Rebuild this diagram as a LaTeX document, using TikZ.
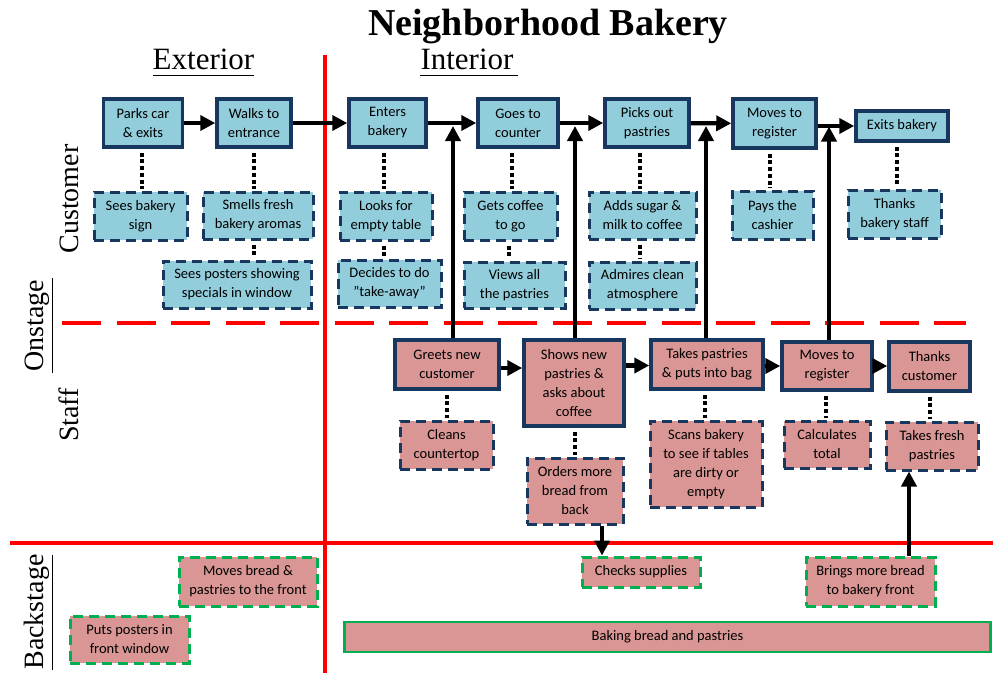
\documentclass[tikz,border=0pt]{standalone}
\usepackage{fontspec}
\setmainfont{Liberation Serif}
\newfontfamily\boxfont{Carlito}
\usetikzlibrary{arrows.meta}

\definecolor{bpnavy}{RGB}{23,55,94}
\definecolor{bpblue}{RGB}{146,205,220}
\definecolor{bppink}{RGB}{217,150,148}
\definecolor{bpgreen}{RGB}{0,176,80}
\definecolor{bpred}{RGB}{255,0,0}

\begin{document}
\begin{tikzpicture}[x=1pt,y=-1pt,
  every node/.style={inner sep=1pt},
  boxtext/.style={font=\boxfont\fontsize{14.5}{19}\selectfont, align=center, inner sep=1pt},
  cmain/.style={boxtext, draw=bpnavy, fill=bpblue, line width=3.5pt},
  csub/.style={boxtext, draw=bpnavy, fill=bpblue, line width=3pt, dash pattern=on 10pt off 6pt},
  smain/.style={boxtext, draw=bpnavy, fill=bppink, line width=3.5pt},
  ssub/.style={boxtext, draw=bpnavy, fill=bppink, line width=3pt, dash pattern=on 10pt off 6pt},
  bsub/.style={boxtext, draw=bpgreen, fill=bppink, line width=3pt, dash pattern=on 10pt off 6pt},
  bsolid/.style={boxtext, draw=bpgreen, fill=bppink, line width=2.6pt},
  arr/.style={line width=4.2pt, -{Triangle[length=15pt,width=15pt]}},
  dots/.style={line width=4pt, dash pattern=on 4pt off 2.7pt, shorten <=4pt, shorten >=2pt},
  zoneline/.style={bpred, line width=3.5pt},
  heading/.style={font=\fontsize{31}{31}\selectfont, inner sep=0pt, anchor=base},
  sidelabel/.style={font=\fontsize{28}{28}\selectfont, inner sep=0pt, anchor=base, rotate=90},
  rule/.style={line width=0.8pt}
]
\useasboundingbox (0,0) rectangle (993,673);

% zone boundaries
\draw[zoneline] (325,55) -- (325,673);
\draw[zoneline, dash pattern=on 39pt off 15.5pt] (62,323) -- (966,323);
\draw[zoneline] (10,543) -- (993,543);

% title and headings
\node[font=\bfseries\fontsize{38}{38}\selectfont, inner sep=0pt, anchor=base] (title) at (548,35) {Neighborhood Bakery};
\node[heading] (ext) at (203.5,69) {Exterior};
\node[heading] (int) at (467,69) {Interior};
\draw[rule] (ext.base west) ++(0,6) -- ++(101,0);
\draw[rule] (int.base west) ++(0,6) -- ++(98,0);

% side labels
\node[sidelabel] (lcust) at (78,199) {Customer};
\node[sidelabel] (lon) at (43,326) {Onstage};
\node[sidelabel] (lstaff) at (78,415) {Staff};
\node[sidelabel] (lback) at (43,612) {Backstage};
\draw[rule] (52,278) -- (52,373);
\draw[rule] (52,555) -- (52,670);

% customer actions
\node[cmain, minimum width=79, minimum height=48] (parks) at (143,123) {Parks car\\\& exits};
\node[cmain, minimum width=74, minimum height=48] (walks) at (254,123) {Walks to\\entrance};
\node[cmain, minimum width=77, minimum height=48] (enters) at (387.5,123) {Enters\\bakery};
\node[cmain, minimum width=80, minimum height=48] (counter) at (518,123) {Goes to\\counter};
\node[cmain, minimum width=84, minimum height=48] (picks) at (647,123) {Picks out\\pastries};
\node[cmain, minimum width=83, minimum height=49] (cmove) at (774.5,123.5) {Moves to\\register};
\node[cmain, minimum width=92, minimum height=30] (exits) at (902,126) {Exits bakery};

\node[csub, minimum width=93, minimum height=48] (sign) at (140.5,216) {Sees bakery\\sign};
\node[csub, minimum width=110, minimum height=47] (smells) at (258,215.5) {Smells fresh\\bakery aromas};
\node[csub, minimum width=148, minimum height=47] (posters) at (237,284.5) {Sees posters showing\\specials in window};
\node[csub, minimum width=92, minimum height=48] (looks) at (386,216) {Looks for\\empty table};
\node[csub, minimum width=103, minimum height=47] (decides) at (389.5,283.5) {Decides to do\\”take-away”};
\node[csub, minimum width=93, minimum height=48] (coffee) at (510.5,216) {Gets coffee\\to go};
\node[csub, minimum width=101, minimum height=46] (views) at (514.5,285) {Views all\\the pastries};
\node[csub, minimum width=107, minimum height=47] (sugar) at (642.5,215.5) {Adds sugar \&\\milk to coffee};
\node[csub, minimum width=107, minimum height=47] (admires) at (642.5,285.5) {Admires clean\\atmosphere};
\node[csub, minimum width=81, minimum height=48] (pays) at (772.5,215) {Pays the\\cashier};
\node[csub, minimum width=93, minimum height=48] (thanks) at (894.5,214) {Thanks\\bakery staff};

% staff actions
\node[smain, minimum width=104, minimum height=49] (greets) at (447,364.5) {Greets new\\customer};
\node[smain, minimum width=100, minimum height=86] (shows) at (574,383) {Shows new\\pastries \&\\asks about\\coffee};
\node[smain, minimum width=112, minimum height=49] (takes) at (707,364.5) {Takes pastries\\\& puts into bag};
\node[smain, minimum width=90, minimum height=48] (smove) at (827,366) {Moves to\\register};
\node[smain, minimum width=81, minimum height=49] (tcust) at (929.5,366.5) {Thanks\\customer};

\node[ssub, minimum width=93, minimum height=48] (cleans) at (446.5,445) {Cleans\\countertop};
\node[ssub, minimum width=96, minimum height=66] (orders) at (575,491) {Orders more\\bread from\\back};
\node[ssub, minimum width=112, minimum height=86] (scans) at (706,464) {Scans bakery\\to see if tables\\are dirty or\\empty};
\node[ssub, minimum width=86, minimum height=47] (calc) at (827,444.5) {Calculates\\total};
\node[ssub, minimum width=92, minimum height=48] (fresh) at (932,446) {Takes fresh\\pastries};

% backstage actions
\node[bsub, minimum width=138, minimum height=49] (movesbread) at (248,581.5) {Moves bread \&\\pastries to the front};
\node[bsub, minimum width=119, minimum height=47] (putsposters) at (129.5,639.5) {Puts posters in\\front window};
\node[bsub, minimum width=118, minimum height=30] (checks) at (641,572) {Checks supplies};
\node[bsub, minimum width=129, minimum height=49] (brings) at (870.5,581.5) {Brings more bread\\to bakery front};
\node[bsolid, minimum width=646, minimum height=30] (baking) at (667.5,637) {Baking bread and pastries};

% customer flow
\draw[arr] (parks) -- (walks);
\draw[arr] (walks) -- (enters);
\draw[arr] (enters) -- (counter);
\draw[arr] (counter) -- (picks);
\draw[arr] (picks) -- (cmove);
\draw[arr] (cmove.east |- exits.west) -- (exits);

% staff flow
\draw[arr] ([yshift=-3.5pt]greets.east) -- ([yshift=-3.5pt]greets.east -| shows.west);
\draw[arr] ([yshift=-1pt]takes.west -| shows.east) -- ([yshift=-1pt]takes.west);
\draw[arr] (takes.east |- smove.west) -- (smove.west);
\draw[arr] (smove) -- (smove -| tcust.west);

% staff actions feeding the customer path
\draw[arr] ([xshift=6pt]greets.north) -- ([xshift=6pt,yshift=-3pt]greets.north |- enters.east);
\draw[arr] ([xshift=1pt]shows.north) -- ([xshift=1pt,yshift=-3pt]shows.north |- counter.east);
\draw[arr] ([xshift=-1pt]takes.north) -- ([xshift=-1pt,yshift=-3pt]takes.north |- picks.east);
\draw[arr] ([xshift=2pt]smove.north) -- ([xshift=2pt,yshift=-3pt]smove.north |- cmove.east);

% backstage links
\draw[arr] ([xshift=27pt]orders.south) -- ([xshift=27pt]orders.south |- checks.north);
\draw[arr] ([xshift=38.5pt]brings.north) -- ([xshift=38.5pt]brings.north |- fresh.south);

% dotted links to supporting actions
\draw[dots] ([xshift=-1pt]parks.south) -- ([xshift=-1pt]parks.south |- sign.north);
\draw[dots] (walks.south) -- (walks.south |- smells.north);
\draw[dots] (smells.south -| walks) -- (walks |- posters.north);
\draw[dots] ([xshift=-4pt]enters.south) -- ([xshift=-4pt]enters.south |- looks.north);
\draw[dots] ([xshift=-4pt]looks.south -| enters) -- ([xshift=-4pt]enters |- decides.north);
\draw[dots] ([xshift=-6pt]counter.south) -- ([xshift=-6pt]counter.south |- coffee.north);
\draw[dots] ([xshift=-1.5pt]coffee.south) -- ([xshift=-1.5pt]coffee.south |- views.north);
\draw[dots] ([xshift=-7pt]picks.south) -- ([xshift=-7pt]picks.south |- sugar.north);
\draw[dots] ([xshift=-2.5pt]sugar.south) -- ([xshift=-2.5pt]sugar.south |- admires.north);
\draw[dots] ([xshift=-4.5pt]cmove.south) -- ([xshift=-4.5pt]cmove.south |- pays.north);
\draw[dots] ([xshift=-5pt]exits.south) -- ([xshift=-5pt]exits.south |- thanks.north);
\draw[dots] (greets.south) -- (greets.south |- cleans.north);
\draw[dots] ([xshift=1pt]shows.south) -- ([xshift=1pt]shows.south |- orders.north);
\draw[dots] ([xshift=-2pt]takes.south) -- ([xshift=-2pt]takes.south |- scans.north);
\draw[dots] ([xshift=-1pt]smove.south) -- ([xshift=-1pt]smove.south |- calc.north);
\draw[dots] ([xshift=0.5pt]tcust.south) -- ([xshift=0.5pt]tcust.south |- fresh.north);
\end{tikzpicture}
\end{document}
